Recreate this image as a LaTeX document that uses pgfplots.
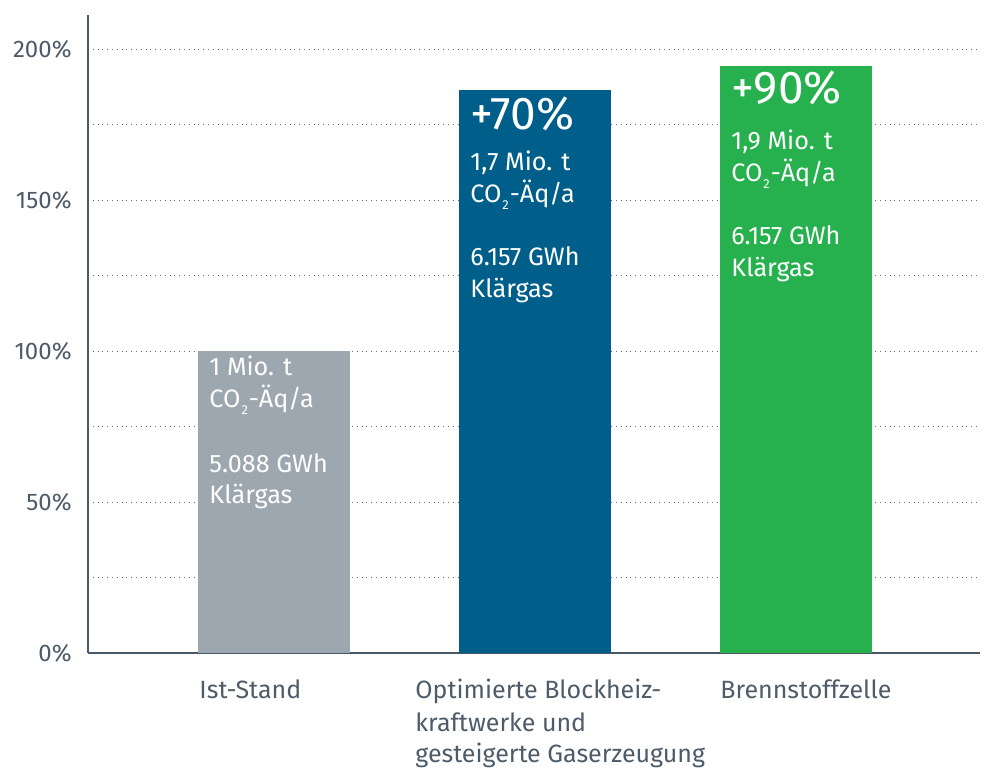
\documentclass[border=0pt]{standalone}
\usepackage{pgfplots}
\pgfplotsset{compat=1.18}
\usepackage{fontspec}
\setmainfont{Fira Sans}

\definecolor{txtgrey}{HTML}{4D5C68}
\definecolor{axgrey}{HTML}{4A5863}
\definecolor{gridgrey}{HTML}{5F6A73}
\definecolor{bargrey}{HTML}{9CA7AF}
\definecolor{barblue}{HTML}{005F8A}
\definecolor{bargreen}{HTML}{26B14E}

% text inside the bars
\newcommand{\bartext}[4]{%
  \node[anchor=base west, inner sep=0pt, text=white, font=#4]
    at ([xshift=-32.5pt]axis cs:#1,#2) {#3};}
\newcommand{\cotwo}{CO\kern0.5pt\raisebox{-0.55ex}{\fontsize{6.5}{7}\selectfont 2}\kern0.5pt}

\begin{document}
\begin{tikzpicture}
\useasboundingbox (-44pt,-57pt) rectangle (449pt,326.5pt);
\begin{axis}[
  scale only axis,
  width=446pt, height=319pt,
  xmin=-0.713, xmax=2.705,
  ymin=0, ymax=211.3,
  axis lines=left,
  axis line style={draw=axgrey, line width=0.75pt, -},
  xtick=\empty,
  ytick={0,50,100,150,200},
  minor ytick={25,75,125,175},
  yticklabel={\pgfmathprintnumber{\tick}\%},
  yticklabel style={font=\fontsize{12}{14}\selectfont, text=txtgrey, inner sep=0pt, xshift=-8pt},
  /pgf/number format/assume math mode=true,
  major tick length=0pt, minor tick length=0pt,
  ymajorgrids, yminorgrids,
  major grid style={gridgrey, dotted, line width=0.5pt},
  minor grid style={gridgrey, dotted, line width=0.5pt},
  ybar, bar width=76pt, bar shift=0pt,
  clip=false,
]
\addplot[fill=bargrey, draw=none] coordinates {(0,100)};
\addplot[fill=barblue, draw=none] coordinates {(1,186.4)};
\addplot[fill=bargreen, draw=none] coordinates {(2,194.4)};

\def\sm{\fontsize{12.6}{14}\selectfont}
\def\bg{\fontsize{23}{26}\selectfont}
% Ist-Stand
\bartext{0}{92.05}{1 Mio. t}{\sm}
\bartext{0}{81.46}{\cotwo-Äq/a}{\sm}
\bartext{0}{59.93}{5.088 GWh}{\sm}
\bartext{0}{49.67}{Klärgas}{\sm}
% BHKW
\bartext{1}{173.5}{+70\%}{\bg}
\bartext{1}{159.9}{1,7 Mio. t}{\sm}
\bartext{1}{149.3}{\cotwo-Äq/a}{\sm}
\bartext{1}{128.5}{6.157 GWh}{\sm}
\bartext{1}{117.9}{Klärgas}{\sm}
% Brennstoffzelle
\bartext{2}{182.1}{+90\%}{\bg}
\bartext{2}{166.9}{1,9 Mio. t}{\sm}
\bartext{2}{156.3}{\cotwo-Äq/a}{\sm}
\bartext{2}{135.4}{6.157 GWh}{\sm}
\bartext{2}{124.8}{Klärgas}{\sm}

% category labels
\def\cl{\fontsize{12.5}{14}\selectfont}
\node[anchor=base west, inner sep=0pt, text=txtgrey, font=\cl] at ([xshift=-37.5pt, yshift=-22.5pt]axis cs:0,0) {Ist-Stand};
\node[anchor=base west, inner sep=0pt, text=txtgrey, font=\cl] at ([xshift=-60pt, yshift=-22.5pt]axis cs:1,0) {Optimierte Blockheiz-};
\node[anchor=base west, inner sep=0pt, text=txtgrey, font=\cl] at ([xshift=-60pt, yshift=-39pt]axis cs:1,0) {kraftwerke und};
\node[anchor=base west, inner sep=0pt, text=txtgrey, font=\cl] at ([xshift=-60pt, yshift=-54.5pt]axis cs:1,0) {gesteigerte Gaserzeugung};
\node[anchor=base west, inner sep=0pt, text=txtgrey, font=\cl] at ([xshift=-38pt, yshift=-22.5pt]axis cs:2,0) {Brennstoffzelle};
\end{axis}
\end{tikzpicture}
\end{document}
